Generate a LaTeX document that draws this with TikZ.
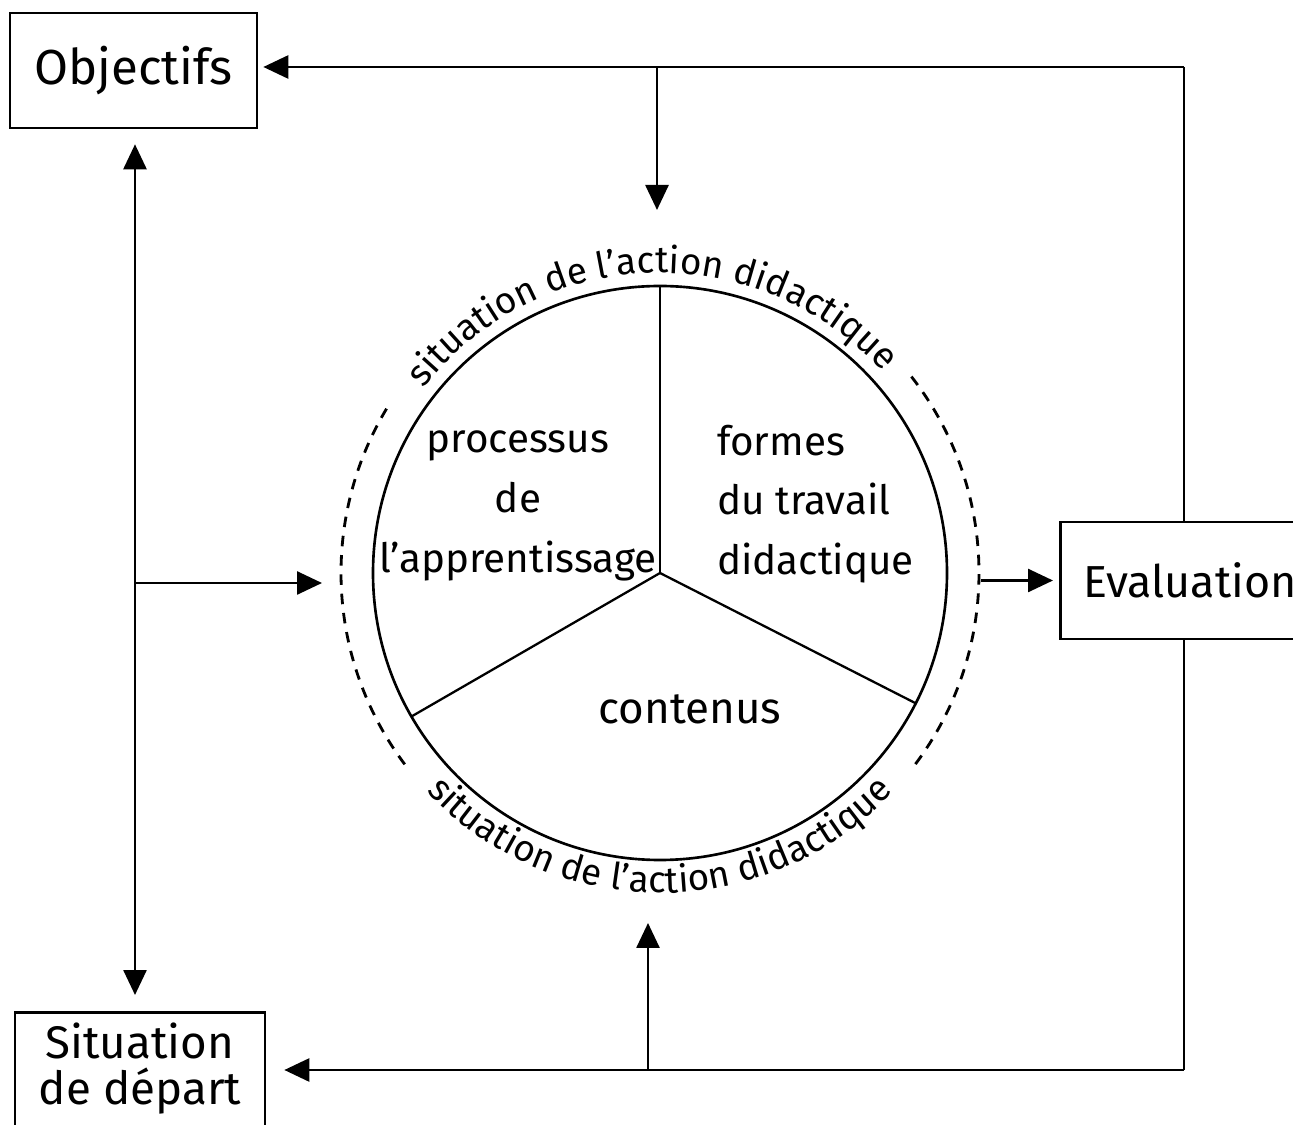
\documentclass[tikz,border=0pt]{standalone}
\usepackage{fontspec}
\setmainfont{Fira Sans}
\usetikzlibrary{calc, arrows.meta, decorations.text, positioning}

\begin{document}
\begin{tikzpicture}[line width=1.5pt]
	\tikzstyle{box}=[draw, rectangle, line width=1.5pt, inner sep=0pt]
	\tikzstyle{flow}=[-{Triangle[length=0.5cm,width=0.46cm]}, line width=1.5pt]
	\tikzstyle{both}=[{Triangle[length=0.5cm,width=0.46cm]}-{Triangle[length=0.5cm,width=0.46cm]}, line width=1.5pt]
	\tikzstyle{seg}=[line width=1.3pt]
	\tikzstyle{cut}=[dash pattern=on 6pt off 5pt, line width=1.6pt]
	\tikzstyle{inside}=[font=\fontsize{23}{34}\selectfont]
	\def\R{5.74}
	\def\Rd{6.38}
	\def\arcfont{\fontsize{21}{21}\selectfont}

	\useasboundingbox (0,0) rectangle (25.86,22.48);

	% boxes
	\begin{scope}
		\node [box, minimum width=4.94cm, minimum height=2.30cm, font=\fontsize{28}{28}\selectfont] (obj) at (2.67,21.07) {Objectifs};
		\node [box, anchor=west, minimum height=2.34cm, text width=4.6cm, inner xsep=0.46cm, font=\fontsize{25.5}{26}\selectfont] (eval) at (21.18,10.87) {Evaluation};
		\node [box, anchor=north, minimum width=5cm, align=center, inner ysep=0.22cm, font=\fontsize{26}{26}\selectfont] (sit) at (2.8,2.26) {Situation\\de départ\rule[-1.2cm]{0pt}{0pt}};
	\end{scope}

	% wheel
	\begin{scope}
		\coordinate (ctr) at (13.2,11.02);
		\draw (ctr) circle (\R);
		\draw [seg] (ctr) -- ($ (ctr) + (90:\R) $);
		\draw [seg] (ctr) -- ($ (ctr) + (210:\R) $);
		\draw [seg] (ctr) -- ($ (ctr) + (333:\R) $);
		\node [inside, align=center] (proc) at (10.36,12.36) {processus\\de\\l'apprentissage};
		\node [inside, align=left, anchor=west] (form) at (14.2,12.4) {formes\\du travail\\didactique};
		\node [inside, font=\fontsize{25}{25}\selectfont] (cont) at (13.8,8.3) {contenus};
	\end{scope}

	% situation de l'action didactique
	\begin{scope}
		\draw [cut] ($ (ctr) + (149:\Rd) $) arc [start angle=149, end angle=218, radius=\Rd];
		\draw [cut] ($ (ctr) + (38:\Rd) $) arc [start angle=38, end angle=-37, radius=\Rd];
		\path [decorate, decoration={text along path, text align=center, text={|\arcfont|situation de l'action didactique}}]
			($ (ctr) + (150:6.0) $) arc [start angle=150, end angle=34, radius=6.0];
		\path [decorate, decoration={text along path, text align=center, text={|\arcfont|situation de l'action didactique}}]
			($ (ctr) + (214:6.4) $) arc [start angle=214, end angle=326, radius=6.4];
	\end{scope}

	% loops
	\begin{scope}
		\coordinate (tr) at (23.68,21.14);
		\coordinate (br) at (23.68,1.08);
		\coordinate (topin) at (13.14,21.14);
		\coordinate (topend) at (13.14,18.28);
		\coordinate (botin) at (12.96,1.08);
		\coordinate (botend) at (12.96,4.02);
		\coordinate (lj) at (2.7,10.82);
		\coordinate (lend) at (6.44,10.82);
		\coordinate (rstart) at (19.62,10.87);

		\draw [flow, shorten >=0.1cm] (tr) -- (tr -| obj.east);
		\draw (tr) -- (tr |- eval.north);
		\draw [flow] (topin) -- (topend);
		\draw (eval.south -| tr) -- (br);
		\draw [flow, shorten >=0.36cm] (br) -- (br -| sit.east);
		\draw [flow] (botin) -- (botend);
		\draw [both, shorten <=0.3cm, shorten >=0.32cm] (obj.south -| lj) -- (sit.north -| lj);
		\draw [flow] (lj) -- (lend);
		\draw [flow, shorten >=0.12cm] (rstart) -- (eval.west);
	\end{scope}
\end{tikzpicture}
\end{document}
